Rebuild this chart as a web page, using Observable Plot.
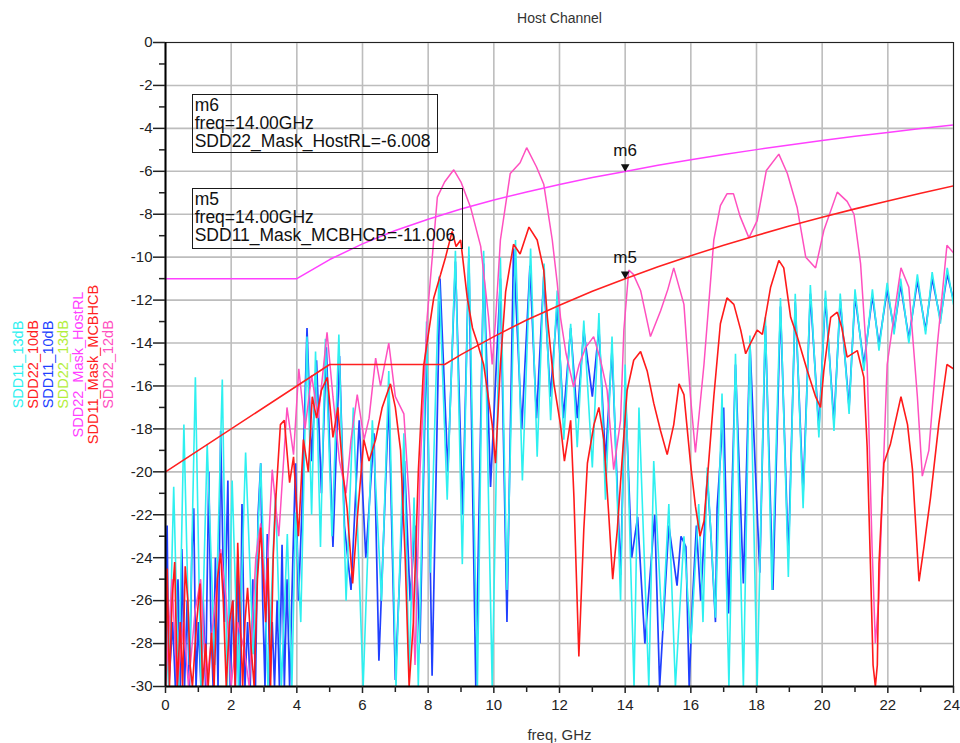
<!DOCTYPE html>
<html><head><meta charset="utf-8">
<script src="https://cdn.jsdelivr.net/npm/d3@7"></script>
<script src="https://cdn.jsdelivr.net/npm/@observablehq/plot@0.6"></script>
<style>
body{margin:0;background:#fff;}
#wrap{position:relative;width:960px;height:743px;font-family:"Liberation Sans",Arial,sans-serif;overflow:hidden;}
.mbox{position:absolute;border:1.5px solid #1a1a1a;box-sizing:border-box;font-size:17.5px;line-height:18px;padding:1px 0 0 2px;color:#111;white-space:pre;}
</style></head><body><div id="wrap"></div>
<script>
// ---- axes / ticks ----
const xDomain = [0, 24];
const yDomain = [-30, 0];
const xMajor = [0, 2, 4, 6, 8, 10, 12, 14, 16, 18, 20, 22, 24];
const xMinor = [1, 3, 5, 7, 9, 11, 13, 15, 17, 19, 21, 23];
const yMajor = [0, -2, -4, -6, -8, -10, -12, -14, -16, -18, -20, -22, -24, -26, -28, -30];
const yMinor = [-1, -3, -5, -7, -9, -11, -13, -15, -17, -19, -21, -23, -25, -27, -29];

const titleText = "Host Channel";
const xLabel = "freq, GHz";

// ---- legend ----
const legendNames = ["SDD11_13dB", "SDD22_10dB", "SDD11_10dB", "SDD22_13dB", "SDD22_Mask_HostRL", "SDD11_Mask_MCBHCB", "SDD22_12dB"];
const legendColors = ["#2ef0f0", "#ff2020", "#2040ff", "#b3ee3a", "#ff40ff", "#ff2020", "#ff50bf"];

// ---- series: [freq GHz, dB] ----
const sdd11_13dB = [
 [0.0,-27],[0.1,-30],[0.25,-20.7],[0.4,-30],[0.56,-17.8],[0.73,-29],[0.91,-15.6],[1.08,-30],[1.27,-18.7],[1.5,-29],
 [1.73,-15.7],[1.88,-30],[2.03,-20.4],[2.22,-30],[2.44,-19.1],[2.67,-28.5],[2.9,-19.6],[3.12,-30],[3.35,-21.0],[3.53,-30],
 [3.71,-22.9],[3.85,-30],[3.96,-21.9],[4.12,-27],[4.31,-13.7],[4.45,-22],[4.57,-14.4],[4.72,-23.5],[4.87,-13.8],[5.07,-23],
 [5.28,-13.6],[5.5,-26],[5.72,-17.0],[6.02,-30],[6.3,-17.6],[6.58,-26],[6.8,-15.3],[7.02,-30],[7.26,-18.2],[7.42,-29.5],
 [7.57,-21.2],[7.7,-30],[7.95,-13],[8.07,-24.7],[8.33,-10.9],[8.58,-21.3],[8.83,-9.7],[9.04,-24.3],[9.24,-9.5],[9.5,-30],
 [9.69,-9.7],[9.95,-30],[10.2,-10.0],[10.4,-25.5],[10.66,-9.2],[10.87,-20.4],[11.12,-9.6],[11.32,-19.3],[11.53,-10.3],[11.73,-17.6],
 [11.93,-11.55],[12.13,-18.5],[12.34,-13.1],[12.54,-18.85],[12.74,-12.95],[13.0,-19.8],[13.2,-12.6],[13.4,-21.3],[13.6,-13.7],[13.86,-26.0],
 [14.0,-15],[14.27,-30],[14.42,-17],[14.72,-30],[14.87,-19.5],[15.13,-27.4],[15.33,-21.5],[15.53,-30],[15.79,-23],[16.0,-28],
 [16.24,-21.5],[16.37,-27],[16.5,-19.8],[16.75,-26.8],[16.95,-16.35],[17.16,-30],[17.36,-14.5],[17.6,-30],[17.8,-13.65],[18.02,-30],
 [18.27,-12.8],[18.47,-25.5],[18.73,-11.9],[18.97,-24.9],[19.18,-11.7],[19.42,-21.7],[19.64,-11.3],[19.9,-18.4],[20.1,-11.55],[20.36,-18.1],
 [20.55,-11.7],[20.82,-17.3],[21.0,-11.5],[21.27,-15.3],[21.53,-11.5],[21.73,-14.35],[21.98,-11.2],[22.19,-13.6],[22.39,-11.0],[22.64,-14.0],
 [22.9,-10.8],[23.15,-13.6],[23.35,-10.7],[23.6,-13.1],[23.81,-10.5],[24.0,-12.2]
];

const sdd11_10dB = [
 [0.0,-26.5],[0.05,-22.5],[0.1,-30],[0.22,-27],[0.3,-30],[0.38,-25],[0.45,-30],[0.5,-23.6],[0.58,-30],[0.66,-26],
 [0.73,-30],[0.8,-24],[0.86,-21.7],[0.93,-30],[1.0,-27],[1.08,-30],[1.15,-26],[1.22,-30],[1.32,-20.0],[1.38,-27],
 [1.45,-30],[1.52,-24],[1.6,-30],[1.68,-18.1],[1.75,-24],[1.8,-27],[1.9,-20.4],[1.97,-30],[2.05,-26],[2.13,-30],
 [2.2,-24],[2.27,-30],[2.33,-21.5],[2.42,-30],[2.5,-27],[2.58,-30],[2.66,-25],[2.74,-30],[2.82,-22],[2.9,-19.6],
 [2.96,-26],[3.03,-30],[3.1,-22.9],[3.18,-30],[3.25,-27],[3.32,-30],[3.4,-26],[3.47,-30],[3.55,-23.4],[3.62,-30],
 [3.7,-25],[3.78,-30],[3.88,-24],[3.96,-19.6],[4.05,-26],[4.15,-22],[4.31,-13.3],[4.45,-19.5],
 [4.6,-14.8],[4.75,-21],[4.9,-14.2],[5.1,-23.5],[5.3,-14.6],[5.45,-22.5],[5.65,-25.5],[5.9,-17.6],[6.1,-24],[6.35,-18.2],
 [6.5,-28.8],[6.8,-16.6],[7.0,-29.7],[7.28,-19.5],[7.45,-26],[7.6,-22.5],[7.75,-28],[7.95,-13.8],[8.12,-29.5],[8.36,-11.0],
 [8.6,-20],[8.83,-10.2],[9.05,-22],[9.24,-9.9],[9.45,-30],[9.69,-10.3],[9.9,-20.7],[10.2,-11],[10.4,-27],[10.6,-9.6],
 [10.85,-18],[11.1,-10.4],[11.3,-17.5],[11.52,-10.9],[11.72,-16.5],[11.93,-12.3],[12.12,-17.5],[12.34,-13.3],[12.54,-17.5],[12.74,-13.4],
 [13.0,-16.5],[13.2,-13.3],[13.4,-19.5],[13.6,-14.3],[13.86,-24.8],[14.0,-16],[14.2,-24],[14.38,-22.1],[14.6,-28],[14.76,-24.8],
 [14.9,-22],[15.05,-30],[15.33,-22.5],[15.58,-25.3],[15.7,-23],[15.85,-23.5],[15.95,-30],[16.05,-26],[16.17,-22.5],[16.3,-26],
 [16.5,-20.2],[16.6,-22.6],[16.75,-27],[16.8,-21.7],[17.0,-17],[17.15,-26.6],[17.36,-15],[17.6,-25.2],[17.8,-14],[18.1,-24.7],
 [18.27,-13.2],[18.5,-25.5],[18.73,-12.3],[18.97,-24],[19.18,-12.1],[19.42,-21],[19.64,-11.7],[19.9,-18],[20.1,-11.9],[20.36,-17.7],
 [20.55,-12],[20.82,-17],[21.0,-11.8],[21.27,-15],[21.53,-11.8],[21.73,-14.1],[21.98,-11.5],[22.19,-13.4],[22.39,-11.3],[22.64,-13.8],
 [22.9,-11.1],[23.15,-13.4],[23.35,-11.0],[23.6,-12.9],[23.81,-10.8],[24.0,-12]
];

const sdd22_10dB = [
 [0.0,-30],[0.05,-24.5],[0.12,-30],[0.2,-26],[0.28,-24.2],[0.36,-30],[0.45,-27],[0.52,-30],[0.6,-24.4],[0.68,-26],
 [0.75,-29],[0.82,-30],[0.95,-27],[1.05,-25.2],[1.13,-30],[1.22,-28],[1.3,-30],[1.4,-27.5],[1.48,-30],[1.58,-25],
 [1.68,-23.8],[1.76,-26],[1.85,-30],[1.95,-27],[2.05,-26],[2.12,-30],[2.2,-23.3],[2.28,-27],[2.35,-30],[2.42,-27],
 [2.5,-25.4],[2.6,-28],[2.7,-30],[2.8,-25],[2.9,-22.6],[2.98,-25],[3.05,-27],[3.12,-24],[3.2,-30],[3.28,-24],
 [3.35,-21.5],[3.5,-17.8],[3.62,-17.6],[3.78,-20.5],[3.9,-19.3],[4.05,-23],[4.2,-18.5],[4.35,-20],
 [4.47,-16.5],[4.6,-17.5],[4.75,-16.2],[4.93,-15.6],[5.1,-18.4],[5.25,-17],[5.4,-20],[5.53,-21.7],[5.7,-25.2],[5.85,-22],
 [6.04,-18.5],[6.2,-19.5],[6.4,-18.5],[6.6,-17],[6.85,-15.9],[7.0,-17],[7.16,-19],[7.3,-24],[7.42,-30],[7.55,-27],
 [7.7,-20],[7.86,-15.1],[8.17,-11.9],[8.38,-10.8],[8.53,-10.0],[8.73,-8.8],[8.85,-9.5],[8.99,-9.2],[9.19,-11.9],[9.35,-13.3],
 [9.5,-14.0],[9.69,-15.0],[9.95,-17.8],[10.05,-19.6],[10.2,-15.0],[10.36,-11.6],[10.6,-9.4],[10.8,-9.85],[11.07,-8.6],[11.32,-9.2],
 [11.52,-10.6],[11.63,-12.8],[11.83,-15.9],[12.03,-17.8],[12.15,-19.5],[12.34,-17.6],[12.44,-21.2],[12.59,-28.6],[12.74,-22.7],[12.85,-19.6],
 [13.05,-17.8],[13.2,-17.0],[13.35,-18.5],[13.5,-22.0],[13.62,-25.0],[13.76,-22.7],[13.9,-19.6],[14.06,-16.2],[14.26,-14.8],[14.47,-14.4],
 [14.67,-15.3],[14.87,-16.8],[15.08,-18.1],[15.28,-19.2],[15.48,-17.8],[15.64,-15.9],[15.79,-16.4],[15.99,-19.6],[16.14,-21.6],[16.28,-23.0],
 [16.4,-22.3],[16.5,-20.4],[16.7,-16.5],[16.9,-13.1],[17.1,-11.9],[17.31,-12.2],[17.52,-13.4],[17.67,-14.5],[17.82,-14.0],[18.02,-13.4],
 [18.18,-13.6],[18.43,-11.4],[18.68,-10.15],[18.83,-10.5],[19.04,-12.8],[19.24,-13.7],[19.55,-15.3],[19.8,-16.5],[19.95,-17.0],[20.05,-15.3],
 [20.26,-12.8],[20.46,-12.56],[20.6,-13.3],[20.76,-14.66],[21.07,-14.35],[21.27,-15.6],[21.37,-18.85],[21.47,-24.3],[21.55,-29],[21.62,-30],
 [21.68,-29],[21.73,-24.3],[21.88,-19.6],[22.08,-18.7],[22.4,-16.5],[22.6,-17.8],[22.75,-19.9],[22.95,-25.1],[23.1,-23.5],[23.3,-21.2],
 [23.55,-17.8],[23.8,-15.0],[24.0,-15.2]
];

const sdd22_12dB = [
 [0.0,-30],[0.2,-25],[0.35,-30],[0.55,-27],[0.7,-30],[0.9,-26.5],[1.07,-25],[1.25,-30],[1.45,-27],[1.68,-23.6],
 [1.85,-26],[2.0,-30],[2.2,-27],[2.4,-28.3],[2.55,-30],[2.75,-24],[2.9,-22.4],[3.05,-26],[3.25,-19.9],[3.45,-23],
 [3.7,-17.0],[3.9,-19.2],[4.06,-15.2],[4.25,-18],[4.45,-15.5],[4.65,-17.5],[4.92,-13.5],[5.1,-16.5],[5.3,-19.5],[5.5,-21],
 [5.65,-18.5],[5.84,-16.4],[6.05,-18.5],[6.2,-17.5],[6.4,-14.7],[6.55,-16],[6.8,-14.0],[7.0,-16.5],[7.26,-17.3],[7.45,-22],
 [7.6,-29],[7.75,-20],[7.97,-12.8],[8.28,-7.2],[8.5,-6.5],[8.78,-5.93],[9.0,-6.5],[9.29,-7.67],[9.6,-9.5],[9.84,-12.8],
 [9.95,-15.0],[10.05,-13],[10.2,-9.2],[10.5,-6.1],[10.8,-5.6],[11.0,-4.9],[11.3,-5.8],[11.52,-6.6],[11.78,-9.2],[11.93,-11.2],
 [12.03,-12.8],[12.2,-14.5],[12.43,-16.05],[12.6,-15],[12.8,-14.2],[13.04,-13.7],[13.25,-14.8],[13.45,-16.2],[13.65,-19.9],[13.86,-17.6],
 [13.96,-13.4],[14.11,-10.6],[14.25,-10.8],[14.47,-11.55],[14.77,-13.7],[15.08,-12.5],[15.3,-11.5],[15.48,-10.5],[15.79,-12.2],[15.99,-16.5],
 [16.14,-19.1],[16.4,-15.0],[16.7,-9.2],[16.9,-7.6],[17.1,-7.05],[17.3,-7.05],[17.5,-8.1],[17.77,-9.1],[18.02,-8.3],[18.3,-5.96],
 [18.68,-5.2],[18.94,-6.1],[19.24,-7.7],[19.5,-10.0],[19.8,-10.5],[20.05,-8.76],[20.46,-6.97],[20.76,-7.4],[20.97,-8.0],[21.17,-10.3],
 [21.37,-15.0],[21.52,-23.5],[21.62,-28],[21.72,-26],[21.83,-21.2],[21.98,-15],[22.3,-11.55],[22.4,-10.5],[22.64,-11.4],[22.9,-16.5],
 [23.05,-20.2],[23.25,-19.0],[23.5,-14.2],[23.8,-9.45],[24.0,-9.8]
];

const sdd22_mask_hostRL = [
 [0,-11],[4,-11],[5,-10.11],[6,-9.38],[7,-8.76],[8,-8.23],[9,-7.76],[10,-7.34],[11,-6.96],[12,-6.61],[13,-6.29],
 [14,-6.008],[15,-5.72],[16,-5.46],[17,-5.22],[18,-4.99],[19,-4.77],[20,-4.57],[21,-4.37],[22,-4.19],[23,-4.01],[24,-3.84]
];

const sdd11_mask_MCBHCB = [
 [0,-20],[5,-15],[8.5,-15],[9,-14.54],[10,-13.70],[11,-12.93],[12,-12.24],[13,-11.59],[14,-11.006],[15,-10.45],
 [16,-9.93],[17,-9.44],[18,-8.99],[19,-8.55],[20,-8.14],[21,-7.75],[22,-7.38],[23,-7.02],[24,-6.68]
];

// ---- markers ----
const markers = [
 {name: "m6", f: 14.0, db: -6.008, trace: "SDD22_Mask_HostRL"},
 {name: "m5", f: 14.0, db: -11.006, trace: "SDD11_Mask_MCBHCB"}
];

// ---- drawing ----
const font = '"Liberation Sans", Arial, sans-serif';
const trace = (data, color, w = 1.6) => Plot.line(data, {x: d => d[0], y: d => d[1], stroke: color, strokeWidth: w, clip: true, strokeLinejoin: "miter"});

const legendMarks = legendNames.map((name, i) => Plot.text([name], {
  text: d => d, frameAnchor: "left", dx: -146.7 + 15 * i, rotate: -90,
  textAnchor: "middle", lineAnchor: "middle", fill: legendColors[i], fontSize: 14.5
}));

const lastX = xMajor[xMajor.length - 1];

const chart = Plot.plot({
  width: 960, height: 743,
  marginLeft: 165, marginRight: 7, marginTop: 42, marginBottom: 57,
  style: {fontFamily: font, fontSize: "15px", color: "#222", background: "#fff", overflow: "visible"},
  x: {domain: xDomain, label: null},
  y: {domain: yDomain, label: null},
  marks: [
    Plot.gridX({ticks: xMajor, stroke: "#bdbdbd", strokeOpacity: 1, strokeWidth: 1.6}),
    Plot.gridY({ticks: yMajor, stroke: "#bdbdbd", strokeOpacity: 1, strokeWidth: 1.6}),
    trace(sdd11_10dB, "#2040ff", 1.7),
    trace(sdd11_13dB, "#2ef0f0", 1.6),
    trace(sdd22_12dB, "#ff50bf", 1.5),
    trace(sdd22_10dB, "#ff1a1a", 1.6),
    trace(sdd22_mask_hostRL, "#ff40ff", 1.5),
    trace(sdd11_mask_MCBHCB, "#ff2020", 1.6),
    Plot.dot(markers, {x: "f", y: "db", symbol: "triangle", rotate: 180, r: 3.2, fill: "#111", stroke: "none", dy: -4.8}),
    Plot.text(markers, {x: "f", y: "db", text: "name", dy: -21, fontSize: 17, fill: "#111"}),
    Plot.frame({stroke: "#222", strokeWidth: 1}),
    Plot.ruleX([xDomain[0]], {stroke: "#000", strokeWidth: 2}),
    Plot.ruleY([yDomain[0]], {stroke: "#000", strokeWidth: 2}),
    Plot.axisX({ticks: xMajor, tickSize: 7, tickPadding: 6, tickFormat: d => d === lastX ? "" : String(d), label: null, fontSize: 15, strokeWidth: 1.5}),
    Plot.text([lastX], {x: d => d, text: d => String(d), frameAnchor: "bottom", dy: 13, dx: 6.5, textAnchor: "end", lineAnchor: "top", fontSize: 15}),
    Plot.axisX({ticks: xMinor, tickSize: 6, tickFormat: () => "", label: null, strokeWidth: 1.5}),
    Plot.axisY({ticks: yMajor, tickSize: 12, tickPadding: 1, tickFormat: d => String(d), label: null, fontSize: 15, strokeWidth: 1.5}),
    Plot.axisY({ticks: yMinor, tickSize: 6, tickFormat: () => "", label: null, strokeWidth: 1.5}),
    Plot.text([titleText], {text: d => d, frameAnchor: "top", dy: -24, textAnchor: "middle", lineAnchor: "middle", fontSize: 14, fill: "#333"}),
    Plot.text([xLabel], {text: d => d, frameAnchor: "bottom", dy: 49, textAnchor: "middle", lineAnchor: "middle", fontSize: 15, fill: "#333"}),
    ...legendMarks
  ]
});

const wrap = document.getElementById("wrap");
wrap.appendChild(chart);

// marker readout boxes (ADS style)
const boxLayout = {m6: {left: 191.7, top: 94.3, width: 246.6, height: 59}, m5: {left: 191.7, top: 187.7, width: 271.6, height: 61.6}};
for (const m of markers) {
  const b = boxLayout[m.name];
  const div = document.createElement("div");
  div.className = "mbox";
  div.style.left = b.left + "px"; div.style.top = b.top + "px";
  div.style.width = b.width + "px"; div.style.height = b.height + "px";
  div.textContent = `${m.name}\nfreq=${m.f.toFixed(2)}GHz\n${m.trace}=${m.db.toFixed(3)}`;
  wrap.appendChild(div);
}
</script></body></html>
